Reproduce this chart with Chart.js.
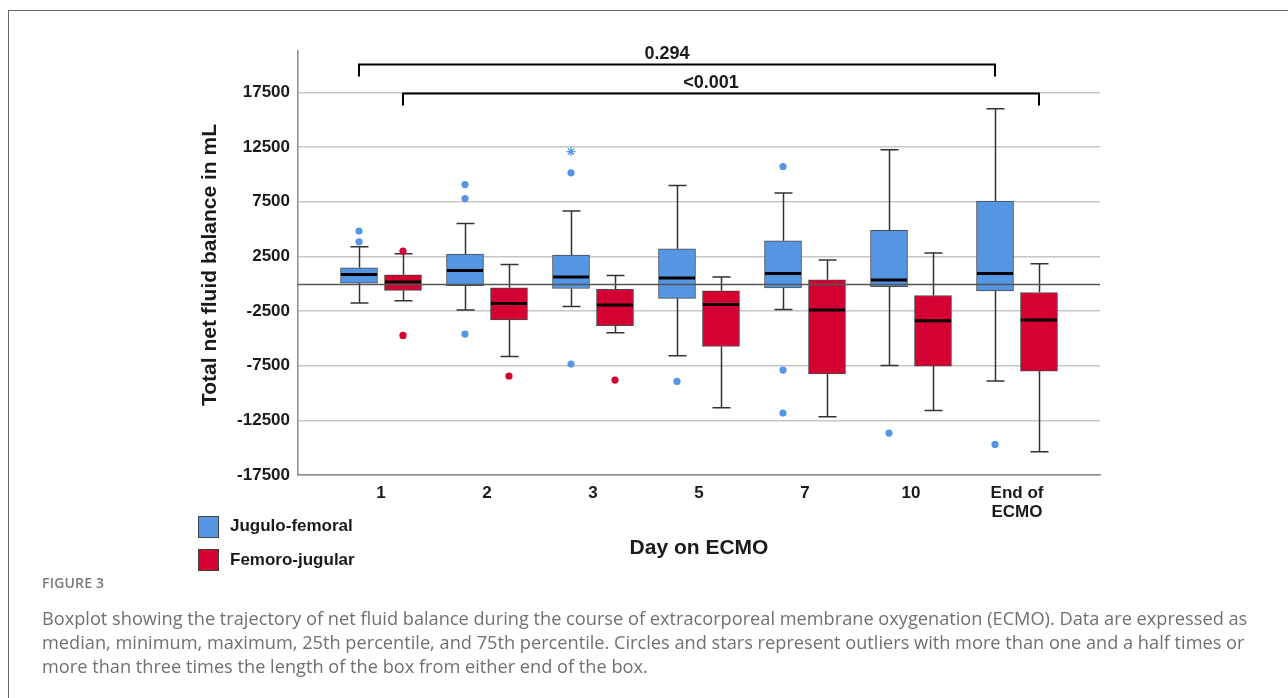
<!DOCTYPE html>
<html>
<head>
<meta charset="utf-8">
<script src="https://cdn.jsdelivr.net/npm/chart.js@4.4.1/dist/chart.umd.min.js"></script>
<style>
  html, body { margin: 0; padding: 0; background: #fff; }
  body { width: 1288px; height: 698px; position: relative; overflow: hidden; }
  #frame { position: absolute; left: 8px; top: 10px; width: 1300px; height: 720px;
           border-top: 1px solid #666; border-left: 1px solid #666; }
  #wrap { position: absolute; left: 0; top: 0; width: 1288px; height: 698px; }
  .key { position: absolute; left: 198px; width: 19px; height: 20px; border: 1px solid #444; }
  .keytext { position: absolute; left: 230px; font: bold 17px "Liberation Sans", Arial, sans-serif;
             color: #1a1a1a; line-height: 20px; }
  #figno { position: absolute; left: 42px; top: 575px; font: 600 14px "Open Sans", sans-serif;
           color: #7a7a7a; letter-spacing: 0.2px; line-height: 16px; }
  #caption { position: absolute; left: 42px; top: 606px; font: 18.2px "Open Sans", sans-serif;
             color: #707070; line-height: 24px; white-space: nowrap; }
</style>
</head>
<body>
<div id="frame"></div>
<div id="wrap"><canvas id="boxChart"></canvas></div>

<div class="key" style="top:516px; background:#5596e4;"></div>
<div class="keytext" style="top:516px;">Jugulo-femoral</div>
<div class="key" style="top:549px; background:#d50032;"></div>
<div class="keytext" style="top:550px;">Femoro-jugular</div>

<div id="figno">FIGURE 3</div>
<div id="caption">Boxplot showing the trajectory of net fluid balance during the course of extracorporeal membrane oxygenation (ECMO). Data are expressed as<br>median, minimum, maximum, 25th percentile, and 75th percentile. Circles and stars represent outliers with more than one and a half times or<br>more than three times the length of the box from either end of the box.</div>

<script>
// days on ECMO
const dayLabels = ["1", "2", "3", "5", "7", "10", ["End of", "ECMO"]];
const yTicks = [-17500, -12500, -7500, -2500, 2500, 7500, 12500, 17500];

// Jugulo-femoral
const jfLow  = [-1770, -2410, -2080, -6590, -2350, -7470, -8900];
const jfQ1   = [60, -180, -430, -1330, -390, -270, -650];
const jfMed  = [850, 1220, 610, 520, 940, 340, 940];
const jfQ3   = [1460, 2720, 2630, 3200, 3930, 4880, 7570];
const jfHigh = [3390, 5520, 6650, 8990, 8300, 12260, 16010];
const jfOutliers = [[0, 4820], [0, 3840], [1, 9080], [1, 7800], [1, -4600], [2, 10150], [2, -7350],
                    [3, -8940], [4, 10730], [4, -7900], [4, -11830], [5, -13660], [6, -14700]];
const jfExtremes = [[2, 12100]];

// Femoro-jugular
const fjLow  = [-1560, -6650, -4480, -11340, -12170, -11590, -15370];
const fjQ1   = [-610, -3320, -3840, -5740, -8260, -7530, -7990];
const fjMed  = [160, -1800, -1950, -1890, -2410, -3390, -3320];
const fjQ3   = [820, -370, -520, -640, 370, -1070, -800];
const fjHigh = [2740, 1770, 760, 610, 2170, 2810, 1830];
const fjOutliers = [[0, 2990], [0, -4730], [1, -8440], [2, -8810]];

// p-value brackets (day index to day index, on one group)
const brackets = [
    { label: "0.294", from: 0, to: 6, group: 0, level: 20100 },
    { label: "<0.001", from: 0, to: 6, group: 1, level: 17500 }
];

const BLUE = "#5596e4";
const RED = "#d50032";
const SHIFT = 0.2075;
const FONT = '"Liberation Sans", Arial, sans-serif';

const groups = [
    { low: jfLow, q1: jfQ1, med: jfMed, q3: jfQ3, high: jfHigh, shift: -SHIFT },
    { low: fjLow, q1: fjQ1, med: fjMed, q3: fjQ3, high: fjHigh, shift: SHIFT }
];

function boxData(g){
    return dayLabels.map((d, i) => ({ x: i + g.shift, y: [g.q1[i], g.q3[i]] }));
}

function pointData(list, shift){
    return list.map(p => ({ x: p[0] + shift, y: p[1] }));
}

const boxParts = {

    id: "boxParts",

    beforeDatasetsDraw(chart){
        const ctx = chart.ctx;
        const xs = chart.scales.x, ys = chart.scales.y;
        ctx.save();
        ctx.strokeStyle = "#333";
        ctx.lineWidth = 1.5;
        groups.forEach(g => {
            dayLabels.forEach((d, i) => {
                const x = Math.round(xs.getPixelForValue(i + g.shift)) + 0.5;
                const yHi = ys.getPixelForValue(g.high[i]);
                const yLo = ys.getPixelForValue(g.low[i]);
                ctx.beginPath();
                ctx.moveTo(x, ys.getPixelForValue(g.q3[i]));
                ctx.lineTo(x, yHi);
                ctx.moveTo(x - 9, yHi);
                ctx.lineTo(x + 9, yHi);
                ctx.moveTo(x, ys.getPixelForValue(g.q1[i]));
                ctx.lineTo(x, yLo);
                ctx.moveTo(x - 9, yLo);
                ctx.lineTo(x + 9, yLo);
                ctx.stroke();
            });
        });
        ctx.restore();
    },

    afterDatasetsDraw(chart){
        const ctx = chart.ctx;
        const xs = chart.scales.x, ys = chart.scales.y;
        const area = chart.chartArea;
        ctx.save();
        ctx.strokeStyle = "#000";
        ctx.lineWidth = 3;
        groups.forEach(g => {
            dayLabels.forEach((d, i) => {
                const x = xs.getPixelForValue(i + g.shift);
                const y = ys.getPixelForValue(g.med[i]);
                ctx.beginPath();
                ctx.moveTo(x - 18, y);
                ctx.lineTo(x + 18, y);
                ctx.stroke();
            });
        });
        // reference line at zero
        const y0 = Math.round(ys.getPixelForValue(0)) + 0.5;
        ctx.strokeStyle = "#555";
        ctx.lineWidth = 1.5;
        ctx.beginPath();
        ctx.moveTo(area.left, y0);
        ctx.lineTo(area.right, y0);
        ctx.stroke();
        ctx.restore();
    },

    afterDraw(chart){
        const ctx = chart.ctx;
        const xs = chart.scales.x, ys = chart.scales.y;
        const area = chart.chartArea;
        ctx.save();
        ctx.strokeStyle = "#000";
        ctx.fillStyle = "#1a1a1a";
        ctx.lineWidth = 2;
        ctx.font = "bold 18px " + FONT;
        ctx.textAlign = "center";
        ctx.textBaseline = "alphabetic";
        brackets.forEach(b => {
            const sh = groups[b.group].shift;
            const x1 = xs.getPixelForValue(b.from + sh);
            const x2 = xs.getPixelForValue(b.to + sh);
            const y = Math.round(ys.getPixelForValue(b.level)) + 0.5;
            ctx.beginPath();
            ctx.moveTo(x1, y + 12);
            ctx.lineTo(x1, y);
            ctx.lineTo(x2, y);
            ctx.lineTo(x2, y + 12);
            ctx.stroke();
            ctx.fillText(b.label, (x1 + x2) / 2 - 10, y - 6);
        });

        // axis titles
        ctx.font = "bold 21px " + FONT;
        ctx.textBaseline = "middle";
        ctx.fillText("Day on ECMO", (area.left + area.right) / 2, 548);
        ctx.translate(210, (area.top + area.bottom) / 2 + 2);
        ctx.rotate(-Math.PI / 2);
        ctx.fillText("Total net fluid balance in mL", 0, 0);
        ctx.restore();
    }

};

const ctx = document.getElementById("boxChart");

new Chart(ctx, {

    type: "bar",

    data: {

        datasets: [

            {
                type: "scatter",
                data: pointData(jfOutliers, -SHIFT),
                backgroundColor: BLUE,
                borderWidth: 0,
                pointRadius: 3.6
            },

            {
                type: "scatter",
                data: pointData(jfExtremes, -SHIFT),
                borderColor: BLUE,
                backgroundColor: BLUE,
                borderWidth: 1.3,
                pointStyle: "star",
                pointRadius: 4.5
            },

            {
                type: "scatter",
                data: pointData(fjOutliers, SHIFT),
                backgroundColor: RED,
                borderWidth: 0,
                pointRadius: 3.6
            },

            {
                label: "Jugulo-femoral",
                data: boxData(groups[0]),
                backgroundColor: BLUE,
                borderColor: "#4a4a4a",
                borderWidth: 1,
                borderSkipped: false,
                barThickness: 37,
                grouped: false
            },

            {
                label: "Femoro-jugular",
                data: boxData(groups[1]),
                backgroundColor: RED,
                borderColor: "#4a4a4a",
                borderWidth: 1,
                borderSkipped: false,
                barThickness: 37,
                grouped: false
            }

        ]

    },

    options: {

        responsive: true,

        maintainAspectRatio: false,

        animation: false,

        layout: {
            padding: { top: 51, right: 188, bottom: 0, left: 0 }
        },

        plugins: {
            legend: { display: false },
            tooltip: { enabled: false }
        },

        scales: {

            x: {
                type: "linear",
                min: -0.783,
                max: 6.783,
                offset: false,
                grid: { display: false, offset: false },
                border: { display: true, color: "#8a8a8a", width: 1.5 },
                afterBuildTicks: (scale) => {
                    scale.ticks = dayLabels.map((d, i) => ({ value: i }));
                },
                afterFit: (scale) => { scale.height = 223; },
                ticks: {
                    autoSkip: false,
                    maxRotation: 0,
                    padding: 1,
                    color: "#1a1a1a",
                    font: { family: FONT, size: 17, weight: "bold", lineHeight: 1.1 },
                    callback: (v) => dayLabels[v]
                }
            },

            y: {
                type: "linear",
                min: -17500,
                max: 21300,
                grid: { color: "#c6c6c6", lineWidth: 1.5, drawTicks: false },
                border: { display: true, color: "#8a8a8a", width: 1.5 },
                afterBuildTicks: (scale) => {
                    scale.ticks = yTicks.map(v => ({ value: v }));
                },
                afterFit: (scale) => { scale.width = 298; },
                ticks: {
                    padding: 8,
                    color: "#1a1a1a",
                    font: { family: FONT, size: 17, weight: "bold" },
                    callback: (v) => String(v)
                }
            }

        }

    },

    plugins: [boxParts]

});
</script>
</body>
</html>
